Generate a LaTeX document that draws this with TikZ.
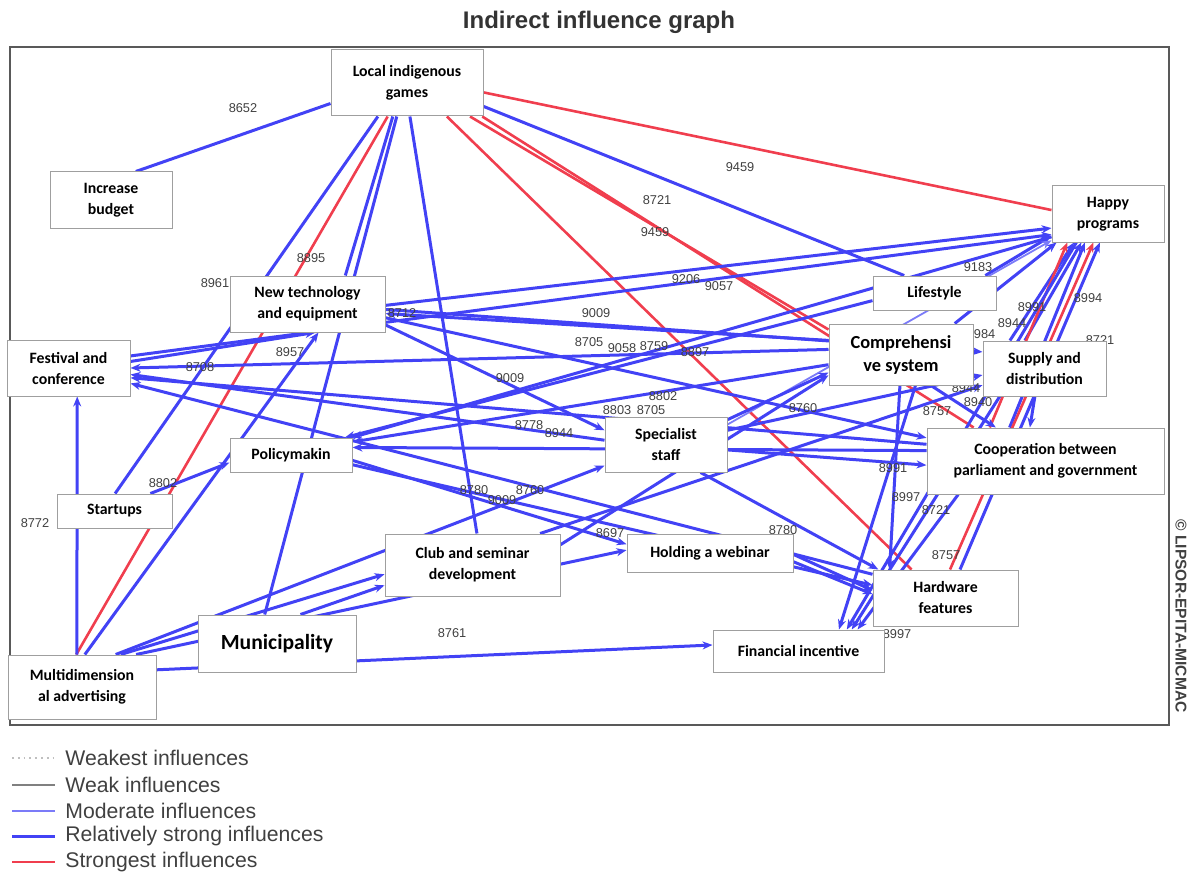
\documentclass[tikz,border=0pt]{standalone}
\usepackage{fontspec}
\setmainfont{Liberation Sans}
\newfontfamily\boxfont{Carlito}
\usetikzlibrary{arrows.meta,backgrounds}
\definecolor{micblue}{RGB}{66,66,245}
\definecolor{micred}{RGB}{240,62,78}

\newcommand*{\valsize}{\fontsize{6.4}{6.4}\selectfont}

\begin{document}
\begin{tikzpicture}[x=0.5pt,y=-0.5pt,
    factor/.style={draw=gray!75,fill=white,line width=0.5pt,align=center,inner sep=1pt,
        font=\boxfont\bfseries\fontsize{7.9}{10.5}\selectfont},
    blueline/.style={draw=micblue,line width=1.5pt},
    modline/.style={draw=micblue!70!white,line width=0.9pt},
    redline/.style={draw=micred,line width=1.3pt},
    weakline/.style={draw=gray,line width=0.9pt},
    faintline/.style={draw=gray!50,line width=0.9pt,dotted},
    arr/.style={-{Stealth[length=5pt,width=4pt]}},
    val/.style={font=\valsize,text=black!75,inner sep=0pt}]
\useasboundingbox (0,0) rectangle (1192,877);

% title
\node[font=\bfseries\fontsize{12}{14}\selectfont,text=black!80] (title) at (599,22) {Indirect influence graph};

% factors
\node[factor,minimum width=76pt,minimum height=33pt] (lig) at (407,83) {Local indigenous\\games};
\node[factor,minimum width=61pt,minimum height=28pt] (budget) at (111,200) {Increase\\budget};
\node[factor,minimum width=56pt,minimum height=28pt] (happy) at (1108,214) {Happy\\programs};
\node[factor,minimum width=77.5pt,minimum height=28pt] (newt) at (307.5,304) {New technology\\and equipment};
\node[factor,minimum width=61.5pt,minimum height=17pt] (life) at (934.5,293) {Lifestyle};
\node[factor,minimum width=61.5pt,minimum height=28pt] (fest) at (68.5,368) {Festival and\\conference};
\node[factor,minimum width=72pt,minimum height=30.5pt,font=\boxfont\bfseries\fontsize{9.2}{11.5}\selectfont] (comp) at (901,354.5) {Comprehensi\\ve system};
\node[factor,minimum width=61.5pt,minimum height=27.5pt] (supply) at (1044.5,368.5) {Supply and\\distribution};
\node[factor,minimum width=61pt,minimum height=17pt] (policy) at (291,455) {Policymakin};
\node[factor,minimum width=61pt,minimum height=27.5pt] (spec) at (666,444.5) {Specialist\\staff};
\node[factor,minimum width=118.5pt,minimum height=33pt] (coop) at (1045.5,461) {Cooperation between\\parliament and government};
\node[factor,minimum width=57.5pt,minimum height=17pt] (start) at (114.5,511) {Startups};
\node[factor,minimum width=87.5pt,minimum height=31pt] (club) at (472.5,565) {Club and seminar\\development};
\node[factor,minimum width=83pt,minimum height=19pt] (web) at (710,553) {Holding a webinar};
\node[factor,minimum width=72.5pt,minimum height=28pt] (hard) at (945.5,598) {Hardware\\features};
\node[factor,minimum width=79pt,minimum height=28.5pt,font=\boxfont\bfseries\fontsize{10.8}{12}\selectfont] (muni) at (277,643.5) {Municipality};
\node[factor,minimum width=85.5pt,minimum height=21pt] (finan) at (798.5,651) {Financial incentive};
\node[factor,minimum width=74pt,minimum height=32pt] (mda) at (82,687) {Multidimension\\al advertising};

\begin{scope}[on background layer]
% frame
\draw[black!65,line width=1.2pt] (10,47) rectangle (1169,725);

% influences of the local indigenous games
\draw[blueline] (lig.195) -- (budget.49);
\draw[redline] (lig.-7) -- (happy.176);
\draw[blueline] (lig.-17) -- (life.150);
\draw[redline] (lig.-28) -- (comp.161);
\draw[redline] (lig.-24) -- (coop.155);
\draw[redline] (lig.-40) -- (hard.140);
\draw[redline] (lig.-120) -- (mda.100);
\draw[blueline] (lig.-131) -- (start.88);
\draw[blueline] (lig.-113) -- (newt.37);
\draw[blueline] (lig.-107) -- (muni.113);
\draw[blueline] (lig.-85) -- (club.82);

% towards the happy programs
\draw[blueline,arr] (newt.-1) -- (happy.194);
\draw[blueline,arr] (fest.11) -- (happy.200);
\draw[blueline,arr] (life.19) -- (happy.201);
\draw[blueline,arr] (happy.202) -- (policy.16);
\draw[blueline,arr] (comp.30) -- (happy.209);
\draw[modline,arr] (spec.18) -- (happy.205);
\draw[blueline,arr] (supply.141) -- (happy.220);
\draw[blueline,arr] (supply.125) -- (happy.227);
\draw[redline,arr] (coop.149) -- (happy.215);
\draw[blueline,arr] (coop.137) -- (happy.231);
\draw[redline,arr] (hard.81) -- (happy.243);
\draw[blueline,arr] (hard.63) -- (happy.254);

% towards the financial incentive
\draw[blueline,arr] (happy.222) -- (finan.24);
\draw[blueline,arr] (comp.-65) -- (finan.28);
\draw[blueline,arr] (supply.212) -- (finan.22);
\draw[blueline,arr] (coop.201) -- (finan.20);
\draw[blueline,arr] (mda.13) -- (finan.176);

% towards the festival and conference
\draw[blueline,arr] (comp.176) -- (fest.0);
\draw[blueline,arr] (coop.172) -- (fest.-9);
\draw[blueline,arr] (hard.162) -- (fest.-14);
\draw[blueline,arr] (spec.176) -- (fest.-6);
\draw[blueline,arr] (fest.6) -- (newt.-75);
\draw[blueline,arr] (mda.99) -- (fest.-73);

% new technology
\draw[blueline,arr] (comp.169) -- (newt.-7);
\draw[blueline,arr] (mda.85) -- (newt.-69);
\draw[blueline,arr] (newt.-15) -- (spec.167);
\draw[blueline,arr] (newt.-10) -- (coop.169);
\draw[blueline,arr] (newt.-4) -- (supply.165);

% policymaking
\draw[blueline,arr] (start.26) -- (policy.187);
\draw[blueline,arr] (comp.188) -- (policy.12);
\draw[blueline,arr] (coop.175) -- (policy.7);
\draw[blueline,arr] (life.187) -- (policy.18);
\draw[blueline,arr] (policy.-5) -- (web.174);
\draw[blueline,arr] (policy.-9) -- (hard.170);

% specialist staff, club, webinar
\draw[blueline,arr] (mda.44) -- (spec.199);
\draw[blueline,arr] (mda.40) -- (club.186);
\draw[blueline,arr] (mda.31) -- (web.178);
\draw[blueline,arr] (muni.51) -- (club.193);
\draw[blueline,arr] (spec.-5) -- (coop.182);
\draw[blueline,arr] (spec.13) -- (supply.186);
\draw[blueline,arr] (spec.22) -- (comp.194);
\draw[blueline,arr] (spec.-39) -- (hard.157);
\draw[blueline,arr] (club.13) -- (comp.196);
\draw[blueline,arr] (club.25) -- (supply.195);
\draw[blueline,arr] (web.-1) -- (hard.174);
\draw[blueline,arr] (web.-6) -- (hard.177);

% comprehensive system, supply, cooperation
\draw[blueline,arr] (comp.-92) -- (hard.153);
\draw[blueline,arr] (comp.-46) -- (coop.146);
\draw[blueline,arr] (supply.-109) -- (coop.115);

% influence values
\node[val] (v1) at (243,108) {8652};
\node[val] (v2) at (740,167) {9459};
\node[val] (v3) at (657,200) {8721};
\node[val] (v4) at (655,232) {9459};
\node[val] (v5) at (311,258) {8895};
\node[val] (v6) at (215,283) {8961};
\node[val] (v7) at (686,279) {9206};
\node[val] (v8) at (719,286) {9057};
\node[val] (v9) at (978,267) {9183};
\node[val] (v10) at (402,313) {8712};
\node[val] (v11) at (596,313) {9009};
\node[val] (v12) at (1032,307) {8991};
\node[val] (v13) at (1088,298) {8994};
\node[val] (v14) at (1012,323) {8944};
\node[val] (v15) at (981,334) {8984};
\node[val] (v16) at (1100,340) {8721};
\node[val] (v17) at (290,352) {8957};
\node[val] (v18) at (200,367) {8708};
\node[val] (v19) at (589,342) {8705};
\node[val] (v20) at (622,348) {9058};
\node[val] (v21) at (654,346) {8759};
\node[val] (v22) at (695,352) {8897};
\node[val] (v23) at (510,378) {9009};
\node[val] (v24) at (663,396) {8802};
\node[val] (v25) at (617,410) {8803};
\node[val] (v26) at (651,410) {8705};
\node[val] (v27) at (803,408) {8760};
\node[val] (v28) at (529,425) {8778};
\node[val] (v29) at (559,433) {8944};
\node[val] (v30) at (937,411) {8757};
\node[val] (v31) at (966,388) {8944};
\node[val] (v32) at (978,402) {8940};
\node[val] (v33) at (893,468) {8991};
\node[val] (v34) at (906,497) {8997};
\node[val] (v35) at (936,510) {8721};
\node[val] (v36) at (163,483) {8802};
\node[val] (v37) at (35,523) {8772};
\node[val] (v38) at (474,490) {8780};
\node[val] (v39) at (502,500) {9009};
\node[val] (v40) at (530,490) {8760};
\node[val] (v41) at (610,533) {8697};
\node[val] (v42) at (783,530) {8780};
\node[val] (v43) at (946,555) {8757};
\node[val] (v44) at (897,634) {8997};
\node[val] (v45) at (452,633) {8761};
\end{scope}

% copyright
\node[rotate=-90,font=\bfseries\fontsize{7.8}{9}\selectfont,text=black!75] (copy) at (1181,616) {© LIPSOR-EPITA-MICMAC};

% legend
\foreach \y/\sty/\txt [count=\n] in {758/faintline/Weakest influences,785/weakline/Weak influences,
    811/modline/Moderate influences,836/blueline/Relatively strong influences,862/redline/Strongest influences} {
    \draw[\sty] (12,\y) -- (55,\y);
    \node[anchor=west,inner sep=0pt,font=\fontsize{10.6}{12}\selectfont,text=black!75] (leg\n) at (65,\y) {\txt};
}
\end{tikzpicture}
\end{document}
